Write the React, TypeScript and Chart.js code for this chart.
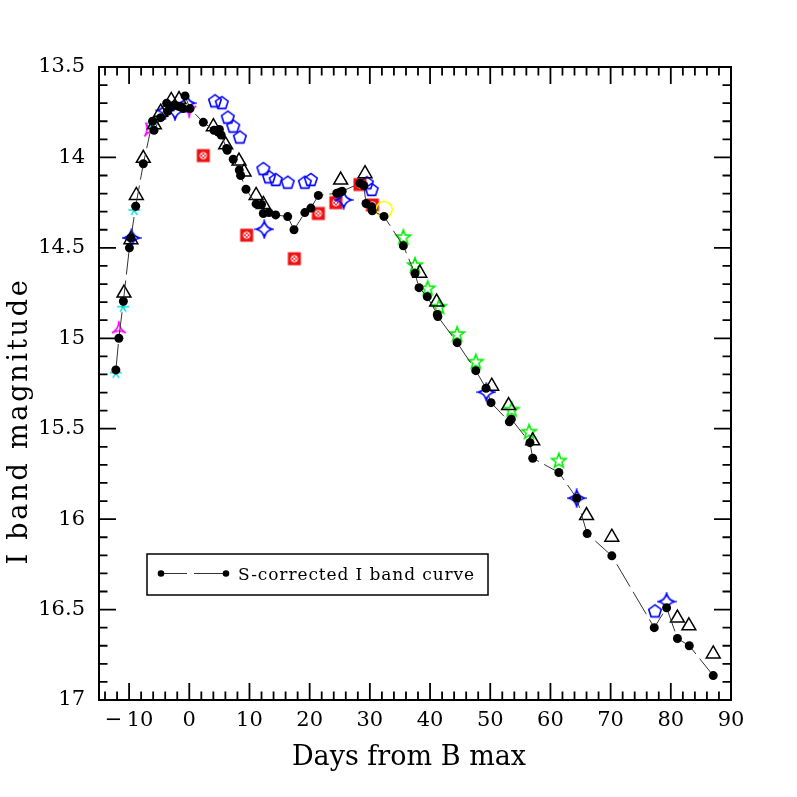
import React, { useEffect, useRef } from "react";
import { Chart, registerables } from "chart.js";
Chart.register(...registerables);

// ---------- data ----------
const sCorrDays = [-12.2, -11.7, -10.95, -9.95, -9.7, -8.9, -7.64, -6.1, -5.86, -4.75, -3.76, -3.6, -3.0, -2.5, -2.0, -1.5, -1.0, -0.7, 0.12, 2.33, 4.1, 4.8, 5.0, 5.3, 6.2, 6.3, 7.3, 8.3, 8.54, 9.42, 11.1, 12.0, 12.3, 13.24, 14.35, 16.35, 17.4, 19.2, 20.2, 21.44, 24.5, 25.0, 25.4, 28.36, 29.0, 29.36, 30.3, 30.4, 32.35, 35.56, 37.5, 38.17, 39.54, 41.2, 41.3, 44.5, 47.6, 49.3, 50.13, 53.17, 53.5, 56.6, 57.06, 61.4, 64.36, 66.1, 70.2, 77.25, 79.3, 81.1, 83.07, 87.05];
const sCorrMag = [15.175, 15.0, 14.795, 14.5, 14.445, 14.27, 14.035, 13.80, 13.85, 13.78, 13.70, 13.745, 13.72, 13.71, 13.715, 13.72, 13.73, 13.66, 13.73, 13.806, 13.85, 13.86, 13.845, 13.876, 13.95, 13.96, 14.01, 14.07, 14.10, 14.176, 14.257, 14.26, 14.31, 14.305, 14.318, 14.327, 14.40, 14.305, 14.28, 14.21, 14.198, 14.193, 14.187, 14.143, 14.155, 14.255, 14.273, 14.295, 14.326, 14.489, 14.642, 14.72, 14.77, 14.868, 14.88, 15.024, 15.179, 15.276, 15.356, 15.462, 15.447, 15.577, 15.663, 15.742, 15.884, 16.08, 16.203, 16.60, 16.49, 16.66, 16.70, 16.865];

const triDays = [-10.85, -9.7, -8.8, -7.64, -5.8, -4.75, -3.0, -1.7, 4.0, 6.05, 8.26, 9.1, 11.1, 12.3, 25.15, 29.2, 38.3, 41.1, 50.25, 53.05, 57.06, 66.0, 70.2, 81.1, 83.0, 87.05];
const triMag = [14.75, 14.455, 14.21, 14.005, 13.82, 13.75, 13.685, 13.68, 13.83, 13.93, 14.02, 14.08, 14.21, 14.26, 14.125, 14.09, 14.64, 14.80, 15.265, 15.372, 15.567, 15.98, 16.10, 16.547, 16.59, 16.745];

const pentDays = [4.27, 5.4, 6.4, 7.3, 8.4, 12.3, 13.25, 14.36, 16.35, 19.2, 20.2, 29.5, 30.3, 77.37];
const pentMag = [13.69, 13.70, 13.78, 13.83, 13.89, 14.065, 14.11, 14.125, 14.14, 14.14, 14.125, 14.143, 14.18, 16.51];

const redDays = [2.33, 9.53, 17.45, 21.44, 24.35, 28.36, 30.42];
const redMag = [13.99, 14.43, 14.56, 14.31, 14.25, 14.15, 14.263];

const bstarDays = [-9.6, -4.0, -2.37, -0.43, 12.46, 25.65, 49.35, 64.36, 79.3];
const bstarMag = [14.445, 13.74, 13.745, 13.70, 14.397, 14.235, 15.298, 15.884, 16.456];

const cyanDays = [-12.2, -11.0, -9.13, -6.1];
const cyanMag = [15.19, 14.825, 14.29, 13.81];

const magDays = [-11.7, -6.8, 0.0];
const magMag = [14.94, 13.84, 13.747];
const magRot = [0, -25, 180];

const greenDays = [35.56, 37.5, 39.6, 41.5, 44.5, 47.6, 53.55, 56.47, 61.4];
const greenMag = [14.44, 14.595, 14.723, 14.825, 14.976, 15.129, 15.394, 15.516, 15.676];

const yellowDays = [32.38];
const yellowMag = [14.288];

const xTickValues = [-10, 0, 10, 20, 30, 40, 50, 60, 70, 80, 90];
const yTickValues = [13.5, 14, 14.5, 15, 15.5, 16, 16.5, 17];

const xTitle = "Days from B max";
const yTitle = "I band magnitude";
const legendLabel = "S-corrected I band curve";

// ---------- helpers ----------
const pts = (xs: number[], ys: number[]) => xs.map((x, i) => ({ x, y: ys[i] }));

function mk(size: number, draw: (ctx: CanvasRenderingContext2D, c: number) => void) {
  const cv = document.createElement("canvas");
  cv.width = size;
  cv.height = size;
  const ctx = cv.getContext("2d")!;
  draw(ctx, size / 2);
  return cv;
}

function makeMarkers() {
  const pentagon = mk(18, (ctx, c) => {
    const r = 6.6;
    ctx.beginPath();
    for (let k = 0; k < 5; k++) {
      const a = -Math.PI / 2 + (k * 2 * Math.PI) / 5;
      const x = c + r * Math.cos(a), y = c + r * Math.sin(a);
      k === 0 ? ctx.moveTo(x, y) : ctx.lineTo(x, y);
    }
    ctx.closePath();
    ctx.strokeStyle = "#0000ff";
    ctx.lineWidth = 1.6;
    ctx.stroke();
  });
  const greenStar = mk(20, (ctx, c) => {
    const ro = 7.6, ri = 3.2;
    ctx.beginPath();
    for (let k = 0; k < 10; k++) {
      const a = -Math.PI / 2 + (k * Math.PI) / 5;
      const r = k % 2 === 0 ? ro : ri;
      const x = c + r * Math.cos(a), y = c + 0.5 + r * Math.sin(a);
      k === 0 ? ctx.moveTo(x, y) : ctx.lineTo(x, y);
    }
    ctx.closePath();
    ctx.strokeStyle = "#00ee00";
    ctx.lineWidth = 1.6;
    ctx.stroke();
  });
  const blueStar = mk(20, (ctx, c) => {
    const r = 8, d = 1.6;
    ctx.beginPath();
    ctx.moveTo(c, c - r);
    ctx.quadraticCurveTo(c + d, c - d, c + r, c);
    ctx.quadraticCurveTo(c + d, c + d, c, c + r);
    ctx.quadraticCurveTo(c - d, c + d, c - r, c);
    ctx.quadraticCurveTo(c - d, c - d, c, c - r);
    ctx.closePath();
    ctx.strokeStyle = "#0000ff";
    ctx.lineWidth = 1.7;
    ctx.stroke();
  });
  const redSq = mk(16, (ctx, c) => {
    ctx.fillStyle = "#ee1111";
    ctx.fillRect(c - 6.5, c - 6.5, 13, 13);
    ctx.strokeStyle = "#ffffff";
    ctx.lineWidth = 1;
    ctx.beginPath();
    ctx.arc(c, c, 3.2, 0, Math.PI * 2);
    ctx.stroke();
    ctx.beginPath();
    ctx.moveTo(c - 2, c - 2); ctx.lineTo(c + 2, c + 2);
    ctx.moveTo(c + 2, c - 2); ctx.lineTo(c - 2, c + 2);
    ctx.stroke();
  });
  const cyan = mk(16, (ctx, c) => {
    const r = 6;
    ctx.strokeStyle = "#00e0e0";
    ctx.lineWidth = 1.5;
    ctx.beginPath();
    for (const deg of [0, 60, 120, 180, 240, 300]) {
      const a = (deg * Math.PI) / 180;
      ctx.moveTo(c, c);
      ctx.lineTo(c + r * Math.cos(a), c + r * Math.sin(a));
    }
    ctx.stroke();
  });
  const magenta = mk(20, (ctx, c) => {
    const r = 8;
    const v = [-90, 30, 150].map((deg) => {
      const a = (deg * Math.PI) / 180;
      return [c + r * Math.cos(a), c + 1.5 + r * Math.sin(a)];
    });
    ctx.beginPath();
    ctx.moveTo(v[0][0], v[0][1]);
    ctx.quadraticCurveTo(c, c + 1.5, v[1][0], v[1][1]);
    ctx.quadraticCurveTo(c, c + 1.5, v[2][0], v[2][1]);
    ctx.quadraticCurveTo(c, c + 1.5, v[0][0], v[0][1]);
    ctx.strokeStyle = "#ff00ff";
    ctx.lineWidth = 1.6;
    ctx.stroke();
  });
  return { pentagon, greenStar, blueStar, redSq, cyan, magenta };
}

const framePlugin = {
  id: "frame",
  beforeDatasetsDraw(chart: any) {
    const { ctx, chartArea: a, scales } = chart;
    const xs = scales.x, ys = scales.y;
    ctx.save();
    ctx.strokeStyle = "#000";
    ctx.lineWidth = 1.8;
    ctx.beginPath();
    for (let d = -14; d <= 88; d += 2) {
      const px = xs.getPixelForValue(d);
      const len = d % 10 === 0 ? 17 : 8.5;
      ctx.moveTo(px, a.bottom); ctx.lineTo(px, a.bottom - len);
      ctx.moveTo(px, a.top); ctx.lineTo(px, a.top + len);
    }
    for (let i = 136; i <= 169; i++) {
      const py = ys.getPixelForValue(i / 10);
      const len = i % 5 === 0 ? 17 : 8.5;
      ctx.moveTo(a.left, py); ctx.lineTo(a.left + len, py);
      ctx.moveTo(a.right, py); ctx.lineTo(a.right - len, py);
    }
    ctx.stroke();
    ctx.lineWidth = 2;
    ctx.strokeRect(a.left, a.top, a.right - a.left, a.bottom - a.top);
    ctx.restore();
  },
  afterDraw(chart: any) {
    const { ctx } = chart;
    ctx.save();
    ctx.fillStyle = "#000";
    // x title
    ctx.font = "27px 'DejaVu Serif'";
    ctx.textAlign = "center";
    ctx.textBaseline = "alphabetic";
    ctx.fillText(xTitle, 409, 765);
    // y title
    ctx.save();
    ctx.translate(27, 421);
    ctx.rotate(-Math.PI / 2);
    (ctx as any).letterSpacing = "2.8px";
    ctx.fillText(yTitle, 0, 0);
    ctx.restore();
    // legend
    ctx.lineWidth = 1.5;
    ctx.strokeStyle = "#000";
    ctx.strokeRect(147, 554, 341, 41);
    const ly = 573.5;
    ctx.lineWidth = 1;
    ctx.strokeStyle = "#333";
    ctx.beginPath();
    ctx.moveTo(161, ly); ctx.lineTo(187, ly);
    ctx.moveTo(194, ly); ctx.lineTo(226, ly);
    ctx.stroke();
    ctx.beginPath();
    ctx.arc(161, ly, 3.3, 0, Math.PI * 2);
    ctx.arc(226, ly, 3.3, 0, Math.PI * 2);
    ctx.fill();
    ctx.font = "17px 'DejaVu Serif'";
    (ctx as any).letterSpacing = "0.9px";
    ctx.textAlign = "left";
    ctx.fillText(legendLabel, 238, 579.5);
    ctx.restore();
  },
};

export default function App() {
  const ref = useRef<HTMLCanvasElement>(null);
  useEffect(() => {
    const m = makeMarkers();
    const tickFont = { family: "'DejaVu Serif'", size: 21 };
    const chart = new Chart(ref.current!, {
      type: "scatter",
      data: {
        datasets: [
          {
            label: legendLabel,
            data: pts(sCorrDays, sCorrMag),
            showLine: true,
            borderColor: "#333",
            borderWidth: 1,
            borderDash: [26, 6],
            pointStyle: "circle",
            pointRadius: 4.5,
            pointBackgroundColor: "#000",
            pointBorderWidth: 0,
            pointBorderColor: "#000",
          },
          {
            label: "tri",
            data: pts(triDays, triMag),
            pointStyle: "triangle",
            pointRadius: 8,
            pointBorderColor: "#000",
            pointBackgroundColor: "rgba(0,0,0,0)",
            pointBorderWidth: 1.5,
          },
          { label: "green", data: pts(greenDays, greenMag), pointStyle: m.greenStar as any, pointRadius: 8 },
          { label: "bstar", data: pts(bstarDays, bstarMag), pointStyle: m.blueStar as any, pointRadius: 8 },
          { label: "cyan", data: pts(cyanDays, cyanMag), pointStyle: m.cyan as any, pointRadius: 7 },
          {
            label: "magenta",
            data: pts(magDays, magMag),
            pointStyle: m.magenta as any,
            pointRadius: 8,
            pointRotation: magRot,
          },
          {
            label: "yellow",
            data: pts(yellowDays, yellowMag),
            pointStyle: "circle",
            pointRadius: 8,
            pointBorderColor: "#ffff00",
            pointBackgroundColor: "rgba(0,0,0,0)",
            pointBorderWidth: 1.6,
          },
          { label: "pent", data: pts(pentDays, pentMag), pointStyle: m.pentagon as any, pointRadius: 7 },
          { label: "red", data: pts(redDays, redMag), pointStyle: m.redSq as any, pointRadius: 7 },
        ] as any,
      },
      options: {
        animation: false,
        responsive: false,
        layout: { padding: { left: 0, top: 67, right: 66, bottom: 0 } },
        plugins: { legend: { display: false }, tooltip: { enabled: false } },
        scales: {
          x: {
            type: "linear",
            min: -15,
            max: 90,
            grid: { display: false, drawTicks: false },
            border: { display: false },
            afterBuildTicks: (s: any) => {
              s.ticks = xTickValues.map((v) => ({ value: v }));
            },
            afterFit: (s: any) => {
              s.height = 97;
            },
            ticks: {
              font: tickFont,
              color: "#000",
              padding: 8,
              maxRotation: 0,
              autoSkip: false,
              callback: (v: any) => (v < 0 ? "\u2212\u2009" + Math.abs(v) : String(v)),
            },
          },
          y: {
            type: "linear",
            min: 13.5,
            max: 17,
            reverse: true,
            grid: { display: false, drawTicks: false },
            border: { display: false },
            afterBuildTicks: (s: any) => {
              s.ticks = yTickValues.map((v) => ({ value: v }));
            },
            afterFit: (s: any) => {
              s.width = 99;
            },
            ticks: {
              font: tickFont,
              color: "#000",
              padding: 14,
              autoSkip: false,
              callback: (v: any) => String(v),
            },
          },
        },
      },
      plugins: [framePlugin],
    });
    return () => chart.destroy();
  }, []);
  return (
    <div style={{ position: "fixed", left: 0, top: 0, width: 797, height: 797, background: "#fff" }}>
      <canvas ref={ref} width={797} height={797} />
    </div>
  );
}
